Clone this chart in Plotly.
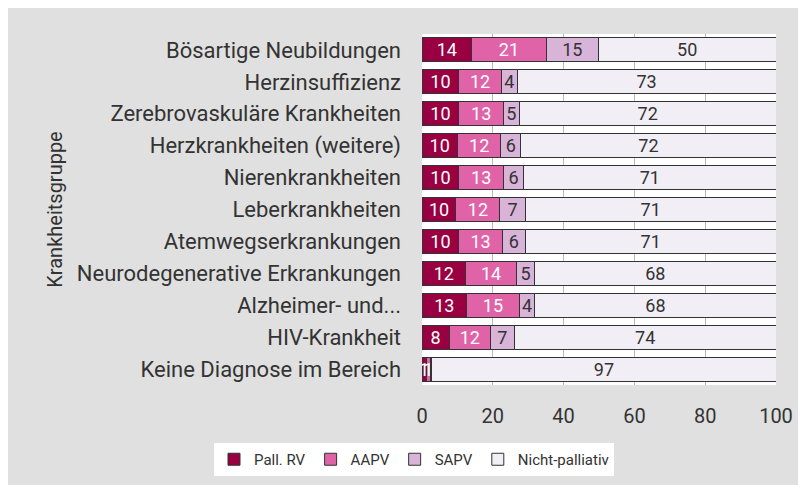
import plotly.graph_objects as go

categories = [
    "Bösartige Neubildungen",
    "Herzinsuffizienz",
    "Zerebrovaskuläre Krankheiten",
    "Herzkrankheiten (weitere)",
    "Nierenkrankheiten",
    "Leberkrankheiten",
    "Atemwegserkrankungen",
    "Neurodegenerative Erkrankungen",
    "Alzheimer- und...",
    "HIV-Krankheit",
    "Keine Diagnose im Bereich",
]

series_names = ["Pall. RV", "AAPV", "SAPV", "Nicht-palliativ"]

pall = [14.0, 10.4, 10.4, 10.0, 10.4, 9.6, 10.4, 12.3, 12.6, 7.7, 1.2]
aapv = [21.1, 12.0, 12.6, 12.3, 12.6, 12.4, 12.3, 14.4, 14.9, 11.6, 1.2]
sapv = [14.7, 4.5, 4.5, 5.6, 5.7, 7.2, 6.5, 5.1, 4.4, 6.8, 0.4]
nicht = [50.2, 73.1, 72.5, 72.1, 71.3, 70.8, 70.8, 68.2, 68.1, 73.9, 97.2]

pall_lbl = ["14", "10", "10", "10", "10", "10", "10", "12", "13", "8", "1"]
aapv_lbl = ["21", "12", "13", "12", "13", "12", "13", "14", "15", "12", "1"]
sapv_lbl = ["15", "4", "5", "6", "6", "7", "6", "5", "4", "7", ""]
nicht_lbl = ["50", "73", "72", "72", "71", "71", "71", "68", "68", "74", "97"]

x_ticks = [0, 20, 40, 60, 80, 100]

colors = ["#990042", "#e063a8", "#d9b4d9", "#f1eef6"]
text_colors = ["#ffffff", "#ffffff", "#333333", "#333333"]

FONT = "Roboto"
W, H = 806, 485
ML, MR, MT, MB = 414, 38, 26, 108
PW = W - ML - MR
PH = H - MT - MB


def px_x(px):
    return (px - ML) / PW


def px_y(py):
    return (H - MB - py) / PH


fig = go.Figure()
for name, vals, lbls, col, tcol in zip(
    series_names, [pall, aapv, sapv, nicht],
    [pall_lbl, aapv_lbl, sapv_lbl, nicht_lbl], colors, text_colors
):
    fig.add_trace(go.Bar(
        y=categories, x=vals, name=name, orientation="h",
        marker=dict(color=col, line=dict(color="#333333", width=1)),
        text=lbls, textposition="inside", insidetextanchor="middle",
        textangle=0, constraintext="none",
        textfont=dict(family=FONT, size=18, color=tcol),
        hoverinfo="x+y+name",
    ))

fig.update_layout(
    width=W, height=H,
    barmode="stack", bargap=0.25,
    margin=dict(l=ML, r=MR, t=MT, b=MB, autoexpand=False),
    paper_bgcolor="#e0e0e0", plot_bgcolor="#ffffff",
    font=dict(family=FONT, size=19, color="#333333"),
    uniformtext=dict(minsize=18, mode="show"),
    xaxis=dict(
        range=[0, 100], tickvals=x_ticks, showgrid=True, gridcolor="#b8b8b8",
        gridwidth=1, zeroline=False, showline=False, ticks="",
        ticklabelstandoff=17, tickfont=dict(size=20, color="#333333"),
        fixedrange=True,
    ),
    yaxis=dict(
        categoryorder="array", categoryarray=categories, autorange="reversed",
        ticks="", showgrid=False, ticklabelstandoff=20,
        tickfont=dict(size=22, color="#333333"),
        title=dict(text="Krankheitsgruppe", standoff=8,
                   font=dict(size=20, color="#333333")),
        fixedrange=True,
    ),
    legend=dict(
        orientation="h", x=px_x(406), xanchor="center", y=px_y(435),
        yanchor="top", bgcolor="#ffffff", font=dict(size=15, color="#333333"),
        traceorder="normal", itemclick=False, itemwidth=30,
    ),
)

fig.write_html("out.html")
